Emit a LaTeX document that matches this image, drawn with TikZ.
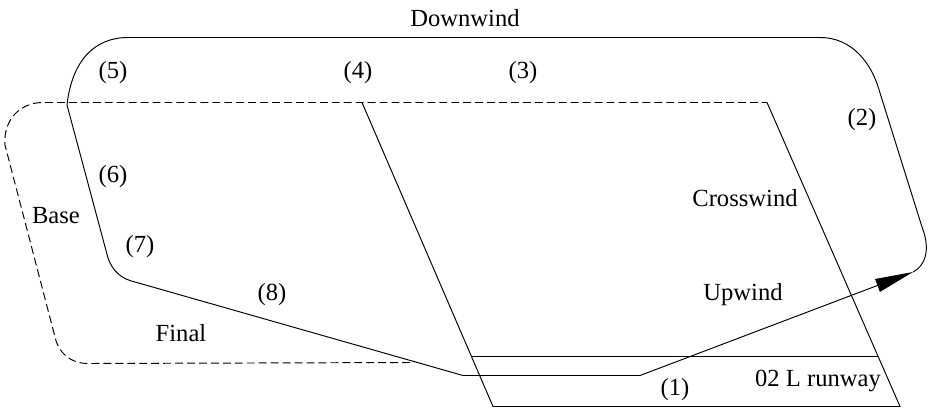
\documentclass[tikz,border=0pt]{standalone}
\usepackage{fontspec}
\setmainfont{Liberation Serif}
\usetikzlibrary{arrows.meta}

\begin{document}
\begin{tikzpicture}[x=0.02cm, y=-0.02cm, line width=0.55pt,
		lbl/.style={font=\fontsize{14}{16}\selectfont, inner sep=1pt},
		plan/.style={dash pattern=on 4.5pt off 2.3pt}]
					\useasboundingbox (0,0) rectangle (935,412);
					
					% Pas startowy
					\coordinate (A1) at (362,102.5);
					\coordinate (A2) at (493,406.5);
					\coordinate (B1) at (767,102.5);
					\coordinate (B2) at (900,406.5);
					\coordinate (RW1) at (471,356.5);
					\coordinate (RW2) at (878,356.5);
					\draw (A1) -- (A2) -- (B2) -- (B1);
					\draw (RW1) -- (RW2);
					
					% Tor lotu
					\coordinate (F0) at (463,375.5);
					\coordinate (F1) at (640,375.5);
					\coordinate (F2) at (913,272);
					\draw[-{Triangle[length=0.76cm, width=0.27cm]}] (F1) -- (F2);
					\draw (F2) .. controls (925,266) and (931,250) .. (922,227)
						-- (880,93) .. controls (872,63) and (852,37.5) .. (820,37.5)
						-- (128,37.5) .. controls (95,37.5) and (72,60) .. (67,105)
						-- (108,258) .. controls (113,272) and (122,279) .. (135,282)
						-- (F0) -- (F1);
					
					% Kr\k{a}g planowany
					\draw[plan] (410,362.5) -- (88,363.5) .. controls (70,363.5) and (58,352) .. (55,337)
						-- (5,145) .. controls (3,120) and (20,102.5) .. (43,102.5) -- (B1);
					
					% Opisy
					\node[lbl] (downwind) at (465,18) {Downwind};
					\node[lbl] (crosswind) at (745,198) {Crosswind};
					\node[lbl] (upwind) at (743,295) {Upwind};
					\node[lbl] (base) at (56,216) {Base};
					\node[lbl] (final) at (181,333) {Final};
					\node[lbl] (runway) at (818,381) {02 L runway};
					\node[lbl] (p1) at (675,390) {(1)};
					\node[lbl] (p2) at (862,120) {(2)};
					\node[lbl] (p3) at (523,73) {(3)};
					\node[lbl] (p4) at (358,73) {(4)};
					\node[lbl] (p5) at (113,73) {(5)};
					\node[lbl] (p6) at (113,177) {(6)};
					\node[lbl] (p7) at (140,247) {(7)};
					\node[lbl] (p8) at (272,295) {(8)};
				\end{tikzpicture}
\end{document}
